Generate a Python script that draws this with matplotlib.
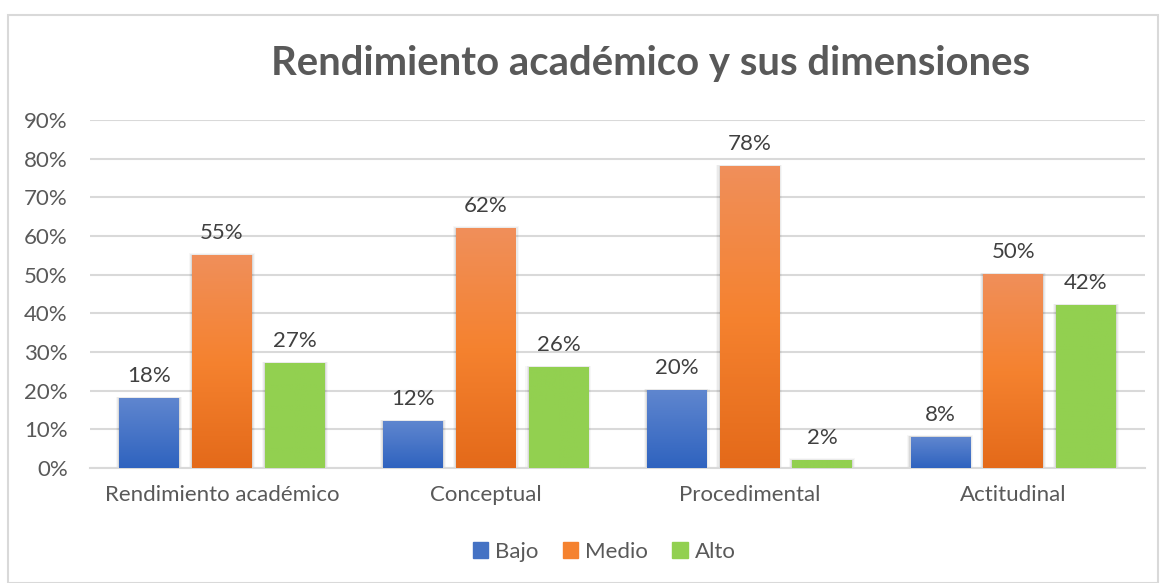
import matplotlib.pyplot as plt
import matplotlib.patches as mpatches
import numpy as np
from matplotlib.colors import LinearSegmentedColormap

plt.rcParams['font.family'] = ['Lato', 'DejaVu Sans']

categorias = ['Rendimiento académico', 'Conceptual', 'Procedimental', 'Actitudinal']
series = ['Bajo', 'Medio', 'Alto']
bajo = [18, 12, 20, 8]
medio = [55, 62, 78, 50]
alto = [27, 26, 2, 42]
valores = [bajo, medio, alto]

# colores arriba / abajo (degradado tipo Excel)
grad = {
    'Bajo': ['#5f86cf', '#2f63bf'],
    'Medio': ['#f08f5a', '#f5822f', '#e46a1a'],
    'Alto': ['#92d050', '#92d050'],
}

fig = plt.figure(figsize=(11.62, 5.83), dpi=100)
ax = fig.add_axes([90/1162, 1 - 468/583, 1055/1162, 348/583])

# marco exterior
fig.patches.append(mpatches.Rectangle((8/1162, 0), 1150/1162, 1 - 15/583, transform=fig.transFigure,
                                      fill=False, edgecolor='#d9d9d9', linewidth=1.5))

x = np.arange(len(categorias))
ancho = 0.226
offs = [-0.276, 0, 0.276]
gris = '#595959'

for s, off, vals in zip(series, offs, valores):
    cmap = LinearSegmentedColormap.from_list(s, grad[s][::-1])
    barras = ax.bar(x + off, vals, ancho, color=grad[s][-1], zorder=3, label=s)
    for b, v in zip(barras, vals):
        x0, w, h = b.get_x(), b.get_width(), b.get_height()
        # sombra suave
        for k, a in zip([3, 2, 1], [0.03, 0.05, 0.07]):
            d = k * 0.004
            ax.add_patch(mpatches.Rectangle((x0 - d, 0), w + 2 * d, h + d * 40, color='#000000',
                                            alpha=a, zorder=2, linewidth=0))
        b.set_facecolor('none')
        b.set_edgecolor('none')
        img = np.linspace(0, 1, 100).reshape(-1, 1)
        ax.imshow(img, cmap=cmap, extent=(x0, x0 + w, 0, h), origin='lower', aspect='auto', zorder=3.5)
        ax.text(x0 + w / 2, h + 3.2, f'{v}%', ha='center', va='bottom', fontsize=16, color='#404040', zorder=5)

ax.set_xlim(-0.5, 3.5)
ax.set_ylim(0, 90)
ax.set_yticks(range(0, 91, 10))
ax.set_yticklabels([f'{t}%' for t in range(0, 91, 10)])
ax.set_xticks(x)
ax.set_xticklabels(categorias)
ax.tick_params(axis='both', length=0, labelsize=16, labelcolor=gris)
ax.tick_params(axis='x', pad=12)
ax.tick_params(axis='y', pad=16)
ax.grid(axis='y', color='#d9d9d9', linewidth=1.5, zorder=0)
ax.set_axisbelow(True)
for sp in ['top', 'right', 'left']:
    ax.spines[sp].set_visible(False)
ax.spines['bottom'].set_color('#d9d9d9')
ax.spines['bottom'].set_linewidth(1.5)

fig.text(651/1162, 1 - 63/583, 'Rendimiento académico y sus dimensiones', ha='center', va='center',
         fontsize=28.8, fontweight='bold', color=gris)

handles = [mpatches.Patch(color='#4472c4'), mpatches.Patch(color='#f5822f'), mpatches.Patch(color='#92d050')]
fig.legend(handles, series, loc='center', bbox_to_anchor=(604/1162, 1 - 552/583), ncol=3, frameon=False,
           fontsize=16, labelcolor=gris, handlelength=0.7, handleheight=0.7, handletextpad=0.3, columnspacing=1.1)

fig.savefig('out.png', dpi=100)
